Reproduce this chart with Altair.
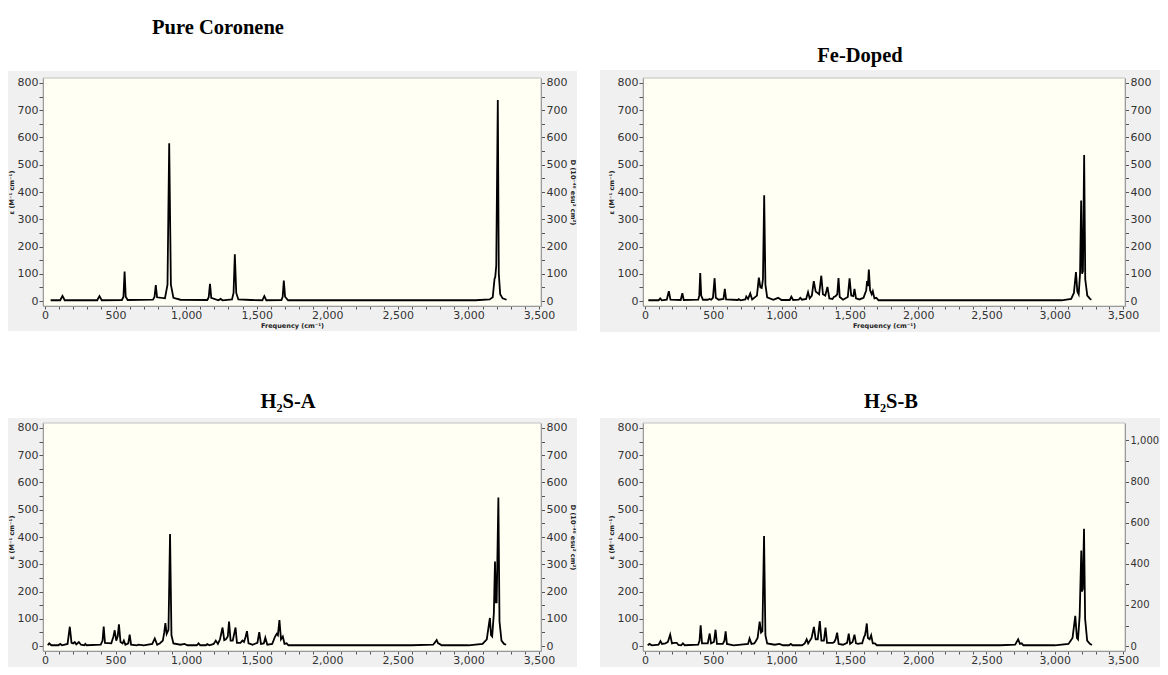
import altair as alt
import pandas as pd

# ---------------- data (frequency cm^-1, epsilon) ----------------
panel_titles = ["Pure Coronene", "Fe-Doped", "H\u2082S-A", "H\u2082S-B"]

pure_coronene = [
    (40, 3), (108, 3), (124, 19), (140, 3), (370, 3), (386, 18), (402, 3), (545, 4), (556, 16),
    (564, 108), (572, 16), (586, 4), (765, 5), (776, 15), (785, 59), (794, 14), (850, 10), (868, 60),
    (880, 579), (892, 60), (910, 12), (960, 5), (1150, 4), (1160, 14), (1169, 63), (1178, 12),
    (1228, 3), (1244, 8), (1258, 3), (1325, 6), (1336, 30), (1345, 172), (1355, 30), (1370, 6),
    (1460, 4), (1540, 3), (1554, 18), (1568, 3), (1675, 4), (1684, 16), (1692, 75), (1701, 16),
    (1722, 3), (3050, 3), (3150, 6), (3172, 14), (3185, 82), (3190, 88), (3197, 130), (3208, 737),
    (3215, 100), (3225, 25), (3242, 10), (3270, 5),
]

fe_doped = [
    (25, 3), (100, 3), (112, 10), (124, 3), (160, 5), (175, 36), (187, 5), (262, 4), (274, 29),
    (284, 4), (390, 5), (398, 20), (405, 103), (412, 20), (425, 5), (460, 5), (473, 8), (485, 5),
    (498, 12), (510, 84), (519, 12), (540, 5), (575, 8), (585, 45), (594, 6), (680, 4), (687, 7),
    (700, 3), (735, 6), (742, 17), (755, 8), (771, 28), (785, 6), (820, 20), (834, 86), (845, 50),
    (855, 48), (864, 80), (873, 388), (882, 60), (895, 14), (940, 5), (975, 12), (1000, 4),
    (1060, 4), (1072, 16), (1085, 4), (1125, 5), (1137, 12), (1150, 5), (1180, 8), (1194, 33),
    (1206, 10), (1222, 20), (1236, 73), (1250, 35), (1262, 30), (1275, 25), (1291, 93), (1303, 25),
    (1320, 20), (1336, 52), (1350, 10), (1373, 8), (1383, 15), (1395, 18), (1408, 25), (1417, 84),
    (1426, 15), (1450, 5), (1485, 15), (1498, 83), (1510, 20), (1525, 18), (1534, 45), (1545, 10),
    (1570, 6), (1600, 12), (1620, 40), (1626, 73), (1632, 55), (1639, 116), (1648, 40), (1660, 25),
    (1668, 36), (1680, 10), (1694, 12), (1710, 3), (3050, 3), (3120, 8), (3140, 30), (3155, 106),
    (3165, 35), (3175, 25), (3185, 100), (3193, 369), (3200, 100), (3206, 110), (3215, 536),
    (3223, 80), (3238, 20), (3258, 8), (3268, 5),
]

h2s_a = [
    (20, 3), (30, 10), (45, 3), (95, 3), (108, 8), (120, 3), (160, 8), (176, 71), (188, 12),
    (200, 10), (211, 15), (222, 6), (240, 15), (255, 5), (278, 3), (286, 8), (295, 3), (395, 5),
    (408, 20), (416, 72), (425, 12), (470, 10), (485, 35), (494, 58), (505, 20), (515, 35),
    (524, 80), (535, 15), (550, 10), (559, 20), (570, 5), (590, 10), (600, 42), (610, 5), (650, 3),
    (662, 5), (700, 3), (760, 8), (778, 28), (795, 5), (815, 10), (824, 15), (835, 20), (845, 50),
    (853, 84), (862, 45), (875, 60), (886, 411), (896, 40), (910, 10), (960, 5), (988, 8),
    (1010, 3), (1075, 3), (1088, 10), (1100, 3), (1140, 3), (1150, 7), (1165, 3), (1195, 8),
    (1210, 20), (1225, 8), (1240, 25), (1258, 68), (1270, 22), (1282, 25), (1295, 35), (1304, 90),
    (1315, 20), (1330, 20), (1350, 68), (1360, 12), (1385, 12), (1399, 20), (1410, 15), (1422, 35),
    (1431, 55), (1442, 10), (1455, 8), (1470, 5), (1505, 12), (1518, 51), (1530, 8), (1550, 10),
    (1561, 31), (1575, 5), (1610, 8), (1630, 35), (1642, 45), (1650, 40), (1661, 95), (1672, 25),
    (1685, 35), (1697, 8), (1712, 10), (1725, 3), (2600, 3), (2750, 5), (2775, 22), (2785, 10),
    (2795, 8), (2810, 3), (3000, 3), (3100, 8), (3130, 25), (3145, 80), (3152, 103), (3160, 40),
    (3168, 35), (3180, 120), (3188, 310), (3194, 160), (3200, 160), (3212, 545), (3220, 90),
    (3234, 20), (3252, 8), (3267, 5),
]

h2s_b = [
    (20, 3), (34, 8), (50, 3), (100, 5), (114, 18), (125, 8), (150, 10), (168, 15), (185, 42),
    (198, 10), (215, 12), (233, 12), (245, 4), (265, 3), (278, 10), (292, 3), (390, 5), (400, 20),
    (408, 76), (418, 10), (460, 10), (474, 46), (484, 10), (505, 15), (517, 60), (527, 8),
    (570, 8), (582, 20), (591, 54), (600, 8), (650, 3), (755, 8), (766, 28), (780, 8), (800, 10),
    (808, 15), (825, 30), (840, 90), (850, 50), (860, 55), (872, 404), (882, 40), (895, 10),
    (950, 5), (985, 8), (1010, 3), (1055, 3), (1068, 8), (1080, 3), (1150, 3), (1170, 10),
    (1184, 25), (1195, 10), (1220, 30), (1237, 70), (1250, 25), (1265, 25), (1280, 92), (1292, 20),
    (1310, 20), (1322, 68), (1333, 12), (1375, 12), (1386, 15), (1396, 25), (1407, 49), (1418, 8),
    (1450, 5), (1480, 12), (1492, 46), (1502, 8), (1520, 15), (1534, 42), (1545, 10), (1560, 8),
    (1575, 10), (1590, 10), (1605, 35), (1611, 40), (1618, 60), (1624, 83), (1632, 30), (1645, 25),
    (1656, 40), (1668, 10), (1683, 10), (1698, 3), (2600, 3), (2710, 5), (2732, 25), (2745, 8),
    (2758, 10), (2770, 3), (3000, 3), (3100, 8), (3130, 30), (3150, 111), (3162, 30), (3170, 25),
    (3182, 110), (3194, 350), (3199, 200), (3205, 210), (3214, 430), (3222, 100), (3237, 20),
    (3257, 8), (3272, 4),
]

x_ticks = list(range(0, 3501, 100))
left_ticks = list(range(0, 801, 50))
right_ticks_800 = list(range(0, 801, 50))
right_ticks_1000 = list(range(0, 1001, 100))

x_title = "Frequency (cm\u207b\u00b9)"
left_title = "\u03b5 (M\u207b\u00b9 cm\u207b\u00b9)"
right_title = "D (10\u207b\u2074\u2070 esu\u00b2 cm\u00b2)"

# ---------------- layout / style ----------------
W_LEFT, W_RIGHT, H = 498, 482, 228
X_DOM = [-14, 3514]
Y_DOM = [-18, 818]
RATIO_B = 1000 / 754
Y2_DOM_B = [Y_DOM[0] * RATIO_B, Y_DOM[1] * RATIO_B]

GRAY = "#f0f0f0"
CREAM = "#fffff4"
LABEL_FONT = "DejaVu Sans"
TITLE_FONT = "Liberation Serif"


def axis_common(**kw):
    base = dict(
        grid=False, zindex=1, labelFont=LABEL_FONT, labelFontSize=11, labelColor="#333333",
        domainColor="#9a9a9a", tickColor="#555555", titleFont=LABEL_FONT, titleFontSize=6.5,
        titleFontWeight="bold", titleColor="#222222", labelOverlap=False, labelBound=False,
    )
    base.update(kw)
    return alt.Axis(**base)


def label_expr(step):
    return "datum.value % " + str(step) + " === 0 ? format(datum.value, ',') : ''"


def panel(title, pairs, width, tpos, gbox, right_dom, right_vals, right_step, rfont,
          show_rtitle, show_xtitle):
    df = pd.DataFrame(pairs, columns=["freq", "eps"])
    one = pd.DataFrame({"t": [title]})

    gray = alt.Chart(one).mark_rect(fill=GRAY).encode(
        x=alt.value(gbox[0]), x2=alt.value(gbox[1]), y=alt.value(gbox[2]), y2=alt.value(gbox[3])
    )
    cream = alt.Chart(one).mark_rect(fill=CREAM, stroke="#c2c2c2", strokeWidth=1).encode(
        x=alt.value(0), x2=alt.value(width), y=alt.value(0), y2=alt.value(H)
    )
    ttl = alt.Chart(one).mark_text(
        font=TITLE_FONT, fontSize=20.5, fontWeight="bold", color="#000000",
        align="center", baseline="middle",
    ).encode(text="t:N", x=alt.value(tpos[0]), y=alt.value(tpos[1]))

    xaxis = axis_common(
        values=x_ticks, tickSize=3, labelPadding=0, labelFlush=False,
        labelExpr=label_expr(500),
        title=x_title if show_xtitle else "", titlePadding=2,
    )
    laxis = axis_common(
        orient="left", values=left_ticks, tickSize=4, labelPadding=1,
        labelExpr=label_expr(100),
        title=left_title, titlePadding=3,
    )
    raxis = axis_common(
        orient="right", values=right_vals, tickSize=3.5, labelPadding=1.5, labelFontSize=rfont,
        labelExpr=label_expr(right_step),
        title=right_title if show_rtitle else "", titlePadding=3,
    )

    line = alt.Chart(df).mark_line(color="#000000", strokeWidth=1.8).encode(
        x=alt.X("freq:Q", scale=alt.Scale(domain=X_DOM, nice=False, zero=False), axis=xaxis),
        y=alt.Y("eps:Q", scale=alt.Scale(domain=Y_DOM, nice=False, zero=False), axis=laxis),
    )
    right = alt.Chart(df).mark_point(opacity=0, size=1).encode(
        y=alt.Y("eps:Q", scale=alt.Scale(domain=right_dom, nice=False, zero=False), axis=raxis),
    )
    return alt.layer(gray, cream, ttl, line, right).resolve_scale(y="independent").properties(
        width=width, height=H
    )


p1 = panel(panel_titles[0], pure_coronene, W_LEFT, (175, -50), (-35, 534, -7, 253),
           Y_DOM, right_ticks_800, 100, 11, True, True)
p2 = panel(panel_titles[1], fe_doped, W_RIGHT, (217, -22), (-43, 517, -8, 254),
           Y_DOM, right_ticks_800, 100, 11, False, True)
p3 = panel(panel_titles[2], h2s_a, W_LEFT, (245, -21), (-35, 534, -5, 244),
           Y_DOM, right_ticks_800, 100, 11, True, False)
p4 = panel(panel_titles[3], h2s_b, W_RIGHT, (248, -21), (-43, 517, -5, 244),
           Y2_DOM_B, right_ticks_1000, 200, 10, False, False)

chart = alt.concat(
    p1, p2, p3, p4, columns=2, spacing={"row": 117, "column": 102}, bounds="flush"
).properties(
    padding={"left": 35, "top": 70, "right": 1117, "bottom": 589},
    autosize=alt.AutoSizeParams(type="none"),
).configure_view(strokeWidth=0)

chart.save("out.html", embed_options={"renderer": "svg", "actions": False})
